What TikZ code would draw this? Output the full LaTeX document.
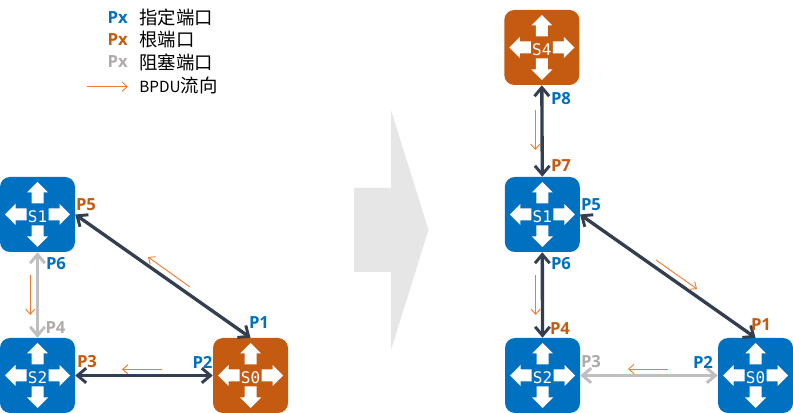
\documentclass[tikz,border=0pt]{standalone}
\usepackage{fontspec}
\setmainfont{Open Sans}
\setmonofont{DejaVu Sans Mono}
\newfontfamily\cjk{Noto Sans CJK SC}
\definecolor{portblue}{HTML}{0070C0}
\definecolor{portorange}{HTML}{C55A11}
\definecolor{portgray}{HTML}{AFABAB}
\definecolor{linkdark}{HTML}{333F50}
\definecolor{linkgray}{HTML}{BFBFBF}
\definecolor{flow}{HTML}{ED7D31}
\definecolor{bigarrow}{HTML}{E7E6E6}
\usetikzlibrary{arrows.meta}
\tikzset{
	sw/.style={draw=none, fill=#1, rounded corners=7.5, minimum size=56.25pt, inner sep=0pt},
	swname/.style={font=\ttfamily\fontsize{12}{12}\selectfont, text=white, inner sep=0pt, yshift=-1.5pt},
	port/.style={font=\bfseries\fontsize{12.5}{12}\selectfont, text=#1, inner sep=0pt},
	link/.style={line width=2.5pt, draw=#1, {Straight Barb[length=6.5pt,width=11pt,line width=2.2pt]}-{Straight Barb[length=6.5pt,width=11pt,line width=2.2pt]}},
	flowline/.style={draw=flow, line width=.7pt, -{Straight Barb[length=4pt,width=7pt,line width=.7pt]}},
	legend/.style={font=\cjk\fontsize{13.8}{14}\selectfont, anchor=west, inner sep=0pt}
}
% four white arrows of a switch
\newcommand{\swarrows}[1]{
	\foreach \a in {0,90,180,270}
	\fill[white, shift={(#1)}, rotate=\a] (11,-6)--(22,-6)--(22,-10.5)--(32.5,0)--(22,10.5)--(22,6)--(11,6)--cycle;
}
\begin{document}
\begin{tikzpicture}[x=.75pt, y=-.75pt, line join=round]
	\useasboundingbox (0,0) rectangle (793,413);
	\path
	(37.5,214.5) coordinate (L1)
	(37.5,375.5) coordinate (L2)
	(250.5,375.5) coordinate (L0)
	(541.8,47.5) coordinate (R4)
	(542.3,214.5) coordinate (R1)
	(542.5,375.5) coordinate (R2)
	(755.5,375.5) coordinate (R0)
	;
	% legend
	\node[port=portblue, anchor=east] (k1) at (128,18) {Px};
	\node[port=portorange, anchor=east] (k2) at (128,40) {Px};
	\node[port=portgray, anchor=east] (k3) at (128,62) {Px};
	\node[legend] (t1) at (139,17) {指定端口};
	\node[legend] (t2) at (139,39.5) {根端口};
	\node[legend] (t3) at (139,62) {阻塞端口};
	\node[legend] (t4) at (139,85) {{\fontsize{11.5}{14}\selectfont BPDU}流向};
	\coordinate (f1) at (87,86.7);
	\coordinate (f2) at (128,86.7);
	\draw[flowline] (f1)--(f2);
	% big arrow
	\fill[bigarrow] (354,188)--(391,188)--(391,110)--(428.5,230)--(391,350)--(391,272)--(354,272)--cycle;
	% switches
	\foreach \n/\p/\c/\t in {s1/L1/portblue/S1,s2/L2/portblue/S2,s0/L0/portorange/S0,u4/R4/portorange/S4,u1/R1/portblue/S1,u2/R2/portblue/S2,u0/R0/portblue/S0}{
		\node[sw=\c] (\n) at (\p) {};
		\swarrows{\p}
		\node[swname] (\n name) at (\p) {\t};
	}
	% links
	\draw[link=linkdark] (s1.east)--(s0.north);
	\draw[link=linkdark] (s2.east)--(s0.west);
	\draw[link=linkgray] (s1.south)--(s2.north);
	\draw[link=linkdark] (u4.south)--(u1.north);
	\draw[link=linkdark] (u1.south)--(u2.north);
	\draw[link=linkdark] (u1.east)--(u0.north);
	\draw[link=linkgray] (u2.east)--(u0.west);
	% port labels
	\foreach \x/\y/\c/\t [count=\i] in {
		86/205/portorange/P5, 56/264/portblue/P6, 55.5/328/portgray/P4, 87/362/portorange/P3,
		202.5/362/portblue/P2, 259/323/portblue/P1,
		561/98.5/portblue/P8, 561/165.5/portorange/P7, 591/205/portblue/P5, 561/264/portblue/P6,
		560/329/portorange/P4, 591/362/portgray/P3, 703/362/portblue/P2, 761/325/portorange/P1}
	\node[port=\c] (lab\i) at (\x,\y) {\t};
	% BPDU flow
	\path
	(30.3,275) coordinate (a1) (30.3,315) coordinate (a2)
	(190,287) coordinate (a3) (148,257) coordinate (a4)
	(162,369.3) coordinate (a5) (122,369.3) coordinate (a6)
	(535.3,110) coordinate (a7) (535.3,150) coordinate (a8)
	(535.7,275) coordinate (a9) (535.7,315) coordinate (a10)
	(656,260) coordinate (a11) (697,289) coordinate (a12)
	(668,369) coordinate (a13) (628,369) coordinate (a14)
	;
	\foreach \u/\v in {a1/a2,a3/a4,a5/a6,a7/a8,a9/a10,a11/a12,a13/a14}
	\draw[flowline] (\u)--(\v);
\end{tikzpicture}
\end{document}
